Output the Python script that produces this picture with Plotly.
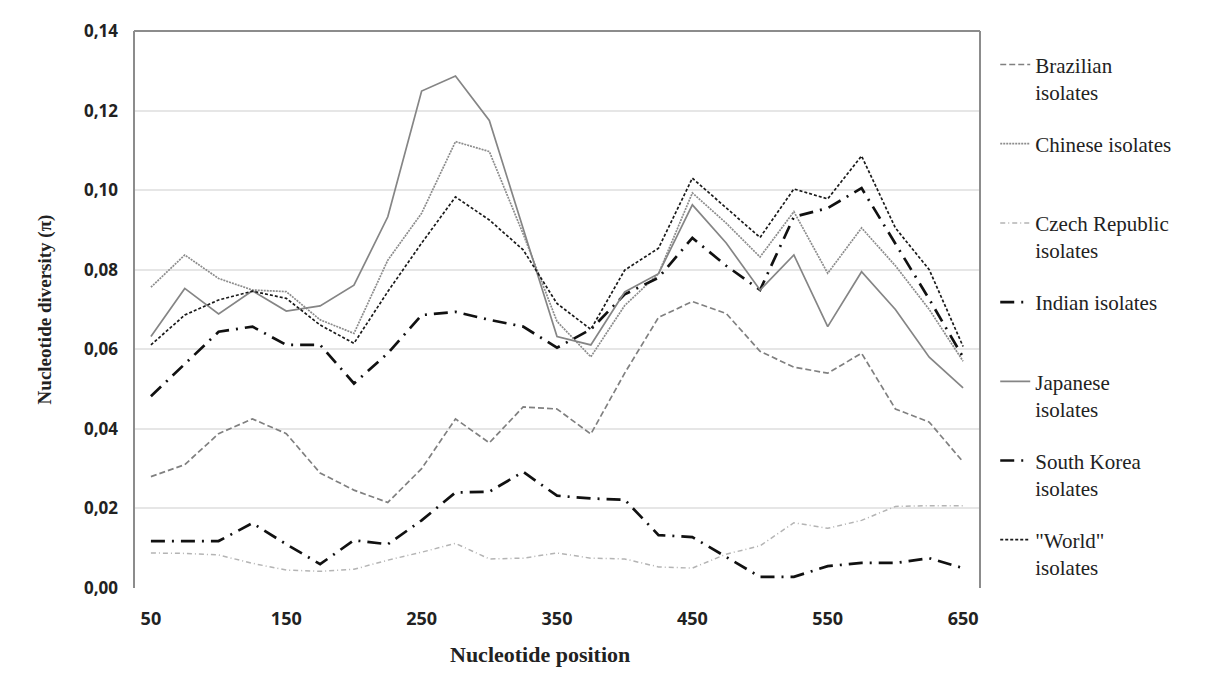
import plotly.graph_objects as go

positions = [50, 75, 100, 125, 150, 175, 200, 225, 250, 275, 300, 325, 350,
             375, 400, 425, 450, 475, 500, 525, 550, 575, 600, 625, 650]

brazilian = [0.028, 0.031, 0.0388, 0.0425, 0.0388, 0.0289, 0.0246, 0.0215, 0.030, 0.0425,
             0.0365, 0.0455, 0.045, 0.0387, 0.054, 0.068, 0.072, 0.069, 0.0595, 0.0555,
             0.054, 0.059, 0.045, 0.0417, 0.0317]
chinese = [0.0756, 0.0837, 0.0778, 0.0749, 0.0745, 0.0674, 0.0640, 0.0824, 0.0942, 0.1122,
           0.1097, 0.089, 0.067, 0.0581, 0.071, 0.079, 0.0993, 0.0917, 0.0832, 0.0946,
           0.0791, 0.0905, 0.081, 0.0700, 0.057]
czech = [0.0088, 0.0087, 0.0083, 0.0062, 0.0045, 0.0042, 0.0047, 0.0070, 0.0090, 0.0112,
         0.0073, 0.0075, 0.0088, 0.0075, 0.0073, 0.0053, 0.0050, 0.0085, 0.0106, 0.0164,
         0.0150, 0.0170, 0.0205, 0.0207, 0.0207]
indian = [0.0482, 0.0563, 0.0644, 0.0657, 0.0611, 0.0611, 0.0514, 0.0590, 0.0686, 0.0694,
          0.0674, 0.0657, 0.0604, 0.0650, 0.0738, 0.0780, 0.0880, 0.0810, 0.0749, 0.0933,
          0.0955, 0.1005, 0.0867, 0.0726, 0.0580]
japanese = [0.0632, 0.0753, 0.0689, 0.0747, 0.0696, 0.0709, 0.0761, 0.0933, 0.1249, 0.1287,
            0.1175, 0.0905, 0.0632, 0.0611, 0.0744, 0.0790, 0.0963, 0.0867, 0.0749, 0.0837,
            0.0657, 0.0795, 0.0700, 0.0580, 0.0503]
south_korea = [0.0118, 0.0118, 0.0118, 0.0163, 0.0110, 0.0060, 0.0120, 0.0110, 0.0170, 0.0240,
               0.0242, 0.0292, 0.0232, 0.0225, 0.0222, 0.0133, 0.0128, 0.0078, 0.0028, 0.0028,
               0.0055, 0.0063, 0.0063, 0.0075, 0.0050]
world = [0.0611, 0.0686, 0.0724, 0.0746, 0.0728, 0.0661, 0.0615, 0.0745, 0.0867, 0.0983,
         0.0925, 0.0850, 0.0715, 0.0650, 0.0799, 0.0854, 0.1030, 0.0955, 0.0881, 0.1003,
         0.0978, 0.1086, 0.0905, 0.0800, 0.0607]

x_tick_vals = [50, 150, 250, 350, 450, 550, 650]
y_tick_vals = [0.0, 0.02, 0.04, 0.06, 0.08, 0.10, 0.12, 0.14]
y_tick_text = ["0,00", "0,02", "0,04", "0,06", "0,08", "0,10", "0,12", "0,14"]

series = [
    ("Brazilian<br>isolates", brazilian, dict(color="#808080", width=1.7, dash="6px,3px")),
    ("Chinese isolates<br>&nbsp;", chinese, dict(color="#8c8c8c", width=1.7, dash="2px,1px")),
    ("Czech Republic<br>isolates", czech, dict(color="#b4b4b4", width=1.5, dash="5px,3px,1px,3px")),
    ("Indian isolates<br>&nbsp;", indian, dict(color="#111111", width=2.7, dash="14px,7px,2px,7px")),
    ("Japanese<br>isolates", japanese, dict(color="#858585", width=1.7)),
    ("South Korea<br>isolates", south_korea, dict(color="#111111", width=2.7, dash="14px,7px,2px,7px")),
    ("\"World\"<br>isolates", world, dict(color="#1a1a1a", width=1.7, dash="3px,2px")),
]

fig = go.Figure()
for i, (name, vals, line) in enumerate(series):
    fig.add_trace(go.Scatter(x=positions, y=vals, mode="lines", name=name,
                             line=line, legendgroup=f"g{i}"))

fig.update_layout(
    width=1200, height=665,
    paper_bgcolor="white", plot_bgcolor="white",
    margin=dict(l=126, r=228, t=23, b=85),
    showlegend=True,
    legend=dict(x=1.018, y=0.976, xanchor="left", yanchor="top",
                font=dict(family="Liberation Serif", size=21, color="#222222"),
                tracegroupgap=21.6, valign="top", itemwidth=30,
                bgcolor="rgba(0,0,0,0)"),
    xaxis=dict(range=[37.5, 662.5], tickvals=x_tick_vals,
               ticktext=[str(v) for v in x_tick_vals], showgrid=False,
               zeroline=False, showline=False, ticks="", automargin=False,
               ticklabelstandoff=18,
               tickfont=dict(family="Open Sans", size=18, color="#222222", weight="bold")),
    yaxis=dict(range=[0, 0.14], tickvals=y_tick_vals, ticktext=y_tick_text,
               showgrid=True, gridcolor="#e6e6e6", gridwidth=1.5, zeroline=False,
               showline=False, ticks="", automargin=False,
               ticklabelstandoff=15,
               tickfont=dict(family="Open Sans", size=17, color="#222222", weight="bold"),
               title=dict(text="<b>Nucleotide diversity (π)</b>",
                          font=dict(family="Liberation Serif", size=19, color="#222222"),
                          standoff=27)),
    annotations=[
        dict(text="<b>Nucleotide position</b>", xref="paper", yref="paper",
             x=0.48, y=-0.12, xanchor="center", yanchor="middle", showarrow=False,
             font=dict(family="Liberation Serif", size=22, color="#222222")),
    ],
    shapes=[
        dict(type="line", xref="paper", yref="paper", x0=0, x1=0, y0=0, y1=1,
             line=dict(color="#8c8c8c", width=2)),
        dict(type="line", xref="paper", yref="paper", x0=0, x1=1, y0=1, y1=1,
             line=dict(color="#8c8c8c", width=2)),
        dict(type="line", xref="paper", yref="paper", x0=1, x1=1, y0=0, y1=1,
             line=dict(color="#8c8c8c", width=2)),
    ],
)

fig.write_html("out.html")
